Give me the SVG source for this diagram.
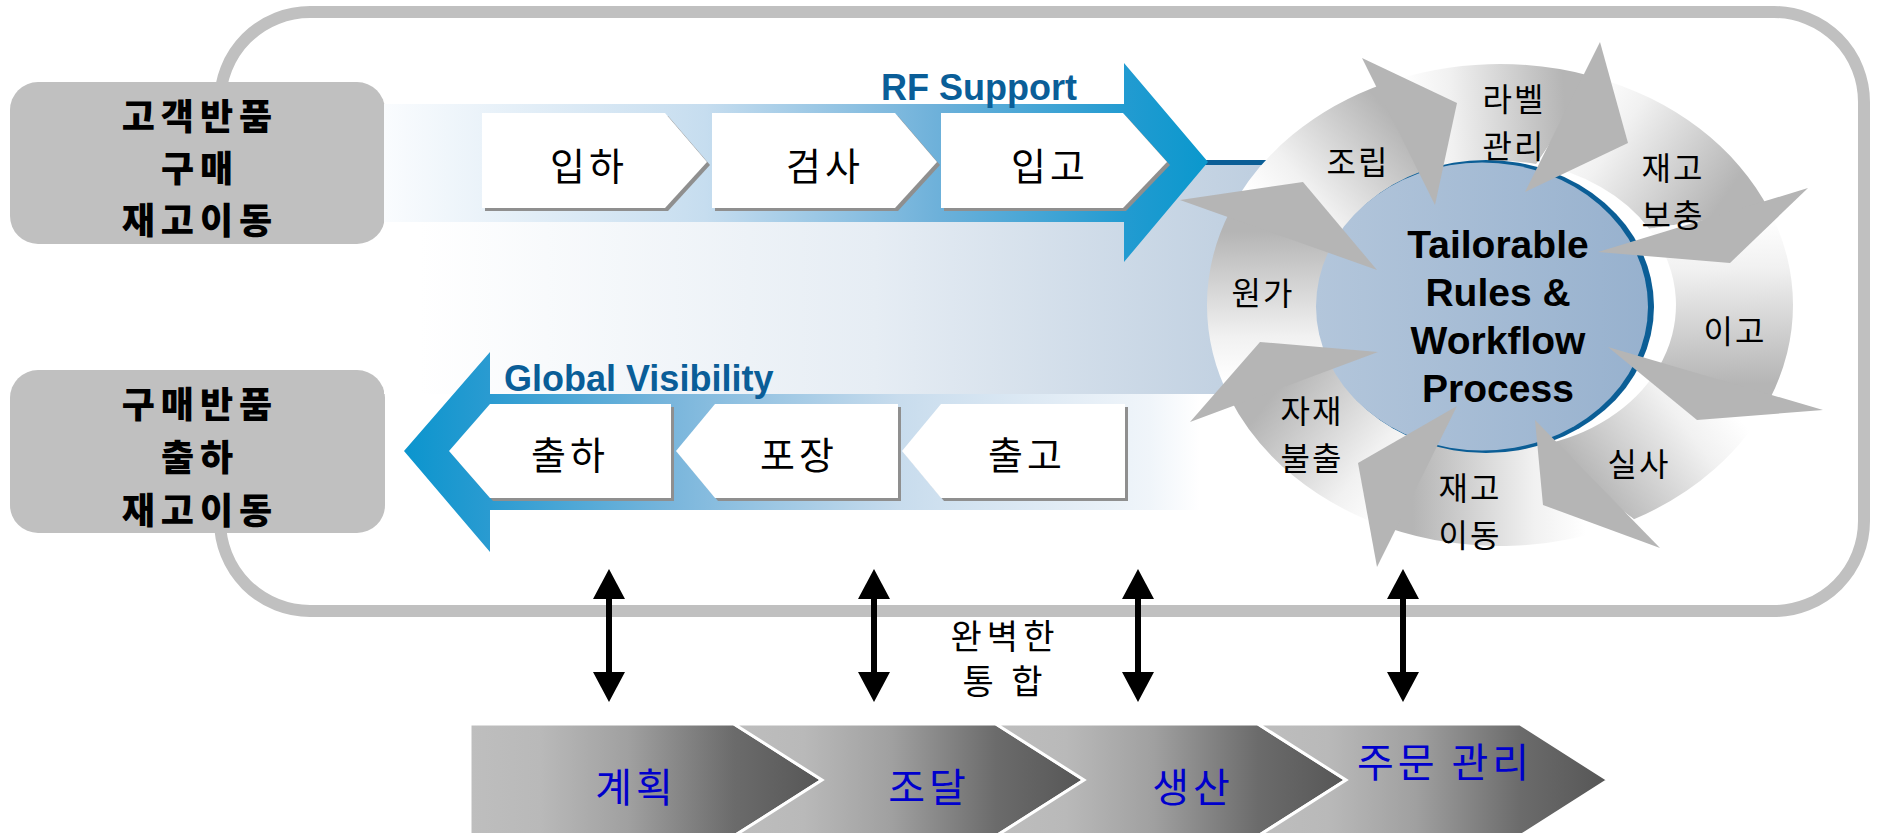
<svg xmlns="http://www.w3.org/2000/svg" width="1881" height="833" viewBox="0 0 1881 833">
<defs>
  <linearGradient id="bgGrad" gradientUnits="userSpaceOnUse" x1="420" y1="0" x2="1330" y2="0">
    <stop offset="0" stop-color="#ffffff"/>
    <stop offset="0.5" stop-color="#e6edf4"/>
    <stop offset="1" stop-color="#b7c9dc"/>
  </linearGradient>
  <linearGradient id="upGrad" gradientUnits="userSpaceOnUse" x1="384" y1="0" x2="1208" y2="0">
    <stop offset="0" stop-color="#fafcfe"/>
    <stop offset="0.39" stop-color="#c6ddef"/>
    <stop offset="0.67" stop-color="#6eb1da"/>
    <stop offset="0.9" stop-color="#229bd1"/>
    <stop offset="1" stop-color="#0a98cd"/>
  </linearGradient>
  <linearGradient id="downGrad" gradientUnits="userSpaceOnUse" x1="404" y1="0" x2="1200" y2="0">
    <stop offset="0" stop-color="#0b95ce"/>
    <stop offset="0.108" stop-color="#2a9bd1"/>
    <stop offset="0.338" stop-color="#7ab6dc"/>
    <stop offset="0.623" stop-color="#c8dced"/>
    <stop offset="0.937" stop-color="#f0f5fa"/>
    <stop offset="1" stop-color="#ffffff"/>
  </linearGradient>
  <linearGradient id="chevGrad" x1="0" y1="0" x2="1" y2="0">
    <stop offset="0" stop-color="#bebebe"/>
    <stop offset="0.2" stop-color="#b9b9b9"/>
    <stop offset="0.45" stop-color="#a0a0a0"/>
    <stop offset="0.75" stop-color="#6b6b6b"/>
    <stop offset="1" stop-color="#565656"/>
  </linearGradient>
  <linearGradient id="circGrad" x1="0" y1="0" x2="1" y2="0">
    <stop offset="0" stop-color="#b3c6db"/>
    <stop offset="1" stop-color="#97b1ce"/>
  </linearGradient>
  <linearGradient id="ringG">
    <stop offset="0" stop-color="#ffffff"/>
    <stop offset="0.3" stop-color="#f1f1f1"/>
    <stop offset="1" stop-color="#b5b5b5"/>
  </linearGradient>
  <linearGradient id="g1" href="#ringG" gradientUnits="userSpaceOnUse" x1="1284.5" y1="380.9" x2="1283.3" y2="231.5"/>
  <linearGradient id="g2" href="#ringG" gradientUnits="userSpaceOnUse" x1="1283.3" y1="231.5" x2="1403.2" y2="129.8"/>
  <linearGradient id="g3" href="#ringG" gradientUnits="userSpaceOnUse" x1="1403.2" y1="129.8" x2="1565.4" y2="120.5"/>
  <linearGradient id="g4" href="#ringG" gradientUnits="userSpaceOnUse" x1="1565.4" y1="120.5" x2="1709.4" y2="219.6"/>
  <linearGradient id="g5" href="#ringG" gradientUnits="userSpaceOnUse" x1="1709.4" y1="219.6" x2="1713.6" y2="384.3"/>
  <linearGradient id="g6" href="#ringG" gradientUnits="userSpaceOnUse" x1="1713.6" y1="384.3" x2="1586" y2="482.5"/>
  <linearGradient id="g7" href="#ringG" gradientUnits="userSpaceOnUse" x1="1586" y1="482.5" x2="1412.6" y2="483.6"/>
  <linearGradient id="g8" href="#ringG" gradientUnits="userSpaceOnUse" x1="1412.6" y1="483.6" x2="1284.5" y2="380.9"/>
  <marker id="ah" markerUnits="userSpaceOnUse" markerWidth="30" markerHeight="32" viewBox="0 0 30 32" refX="0" refY="16" orient="auto-start-reverse">
    <path d="M0,0 L30,16 L0,32 Z" fill="#000" stroke="none"/>
  </marker>
</defs>
<style>
  .kr{font-family:"Noto Sans CJK KR","Noto Sans CJK SC",sans-serif}
  .en{font-family:"Liberation Sans",Arial,sans-serif;font-weight:700}
  .lbox{fill:#c0c0c0}
  .lt{font-size:36px;font-weight:900;fill:#000;text-anchor:middle;dominant-baseline:central;letter-spacing:6px}
  .chev{fill:#ffffff}
  .shadow{fill:#8f8f8f}
  .ct{font-size:38px;fill:#000;text-anchor:middle;dominant-baseline:central;letter-spacing:4px}
  .wt{font-size:32px;fill:#000;text-anchor:middle;dominant-baseline:central;letter-spacing:2px}
  .head{fill:#b5b5b5}
  .bchev{fill:url(#chevGrad);stroke:#ffffff;stroke-width:3}
  .bt{font-size:40px;fill:#0000cc;text-anchor:middle;dominant-baseline:central;letter-spacing:4px}
  .flow{font-size:36px;fill:#0a5e98}
  .it{font-size:34px;fill:#000;text-anchor:middle;dominant-baseline:central;letter-spacing:5px}
</style>
<rect width="1881" height="833" fill="#ffffff"/>

<g id="frame">
  <path d="M220,240 V102 A90,90 0 0 1 310,12 H1774 A90,90 0 0 1 1864,102 V521 A90,90 0 0 1 1774,611 H310 A90,90 0 0 1 220,521 V380" fill="none" stroke="#c0c0c0" stroke-width="12"/>
</g>

<g id="node-inbound-source">
  <rect class="lbox" x="10" y="82" width="375" height="162" rx="28"/>
  <text class="kr lt" x="200" y="114">고객반품</text>
  <text class="kr lt" x="200" y="166">구매</text>
  <text class="kr lt" x="200" y="218">재고이동</text>
</g>
<g id="node-outbound-target">
  <rect class="lbox" x="10" y="370" width="375" height="163" rx="28"/>
  <text class="kr lt" x="200" y="402">구매반품</text>
  <text class="kr lt" x="200" y="455">출하</text>
  <text class="kr lt" x="200" y="508">재고이동</text>
</g>

<g id="flow-background">
  <rect x="384" y="162" width="946" height="232" fill="url(#bgGrad)"/>
  <line x1="1205" y1="162.5" x2="1300" y2="162.5" stroke="#0b5e96" stroke-width="5"/>
</g>

<g id="arrow-rf-support">
  <path d="M384,104 H1124 V63 L1208,162 L1124,262 V222 H384 Z" fill="url(#upGrad)"/>
  <text class="en flow" x="881" y="100">RF Support</text>
</g>
<g id="arrow-global-visibility">
  <path d="M1300,394 H490 V352 L404,451 L490,552 V510 H1300 Z" fill="url(#downGrad)"/>
  <text class="en flow" x="504" y="391" font-size="35">Global Visibility</text>
</g>

<g id="node-receipt">
  <path class="shadow" d="M485,116 H668 L710,165 L668,211 H485 Z"/>
  <path class="chev" d="M482,113 H665 L707,162 L665,208 H482 Z"/>
  <text class="kr ct" x="589" y="163">입하</text>
</g>
<g id="node-inspect">
  <path class="shadow" d="M715,116 H898 L940,165 L898,211 H715 Z"/>
  <path class="chev" d="M712,113 H895 L937,162 L895,208 H712 Z"/>
  <text class="kr ct" x="825" y="163">검사</text>
</g>
<g id="node-putaway">
  <path class="shadow" d="M944,116 H1126 L1170,165 L1126,211 H944 Z"/>
  <path class="chev" d="M941,113 H1123 L1167,162 L1123,208 H941 Z"/>
  <text class="kr ct" x="1050" y="163">입고</text>
</g>

<g id="node-ship">
  <path class="shadow" d="M493,407 H674 V501 H493 L452,454 Z"/>
  <path class="chev" d="M490,404 H671 V498 H490 L449,451 Z"/>
  <text class="kr ct" x="570" y="452">출하</text>
</g>
<g id="node-pack">
  <path class="shadow" d="M718,407 H901 V501 H718 L679,454 Z"/>
  <path class="chev" d="M715,404 H898 V498 H715 L676,451 Z"/>
  <text class="kr ct" x="799" y="452">포장</text>
</g>
<g id="node-issue">
  <path class="shadow" d="M944,407 H1128 V501 H944 L905,454 Z"/>
  <path class="chev" d="M941,404 H1125 V498 H941 L902,451 Z"/>
  <text class="kr ct" x="1027" y="452">출고</text>
</g>

<g id="wheel-bands">
  <path d="M1230.1,398.8 A293,241 0 0 1 1230.3,210.8 L1336.2,252.2 A176,144 0 0 0 1338.8,362.9 Z" fill="url(#g1)"/>
  <path d="M1230.3,210.8 A293,241 0 0 1 1384.6,83.5 L1421.8,176 A176,144 0 0 0 1336.2,252.2 Z" fill="url(#g2)"/>
  <path d="M1384.6,83.5 A293,241 0 0 1 1594.4,76.9 L1536.3,164.1 A176,144 0 0 0 1421.8,176 Z" fill="url(#g3)"/>
  <path d="M1594.4,76.9 A293,241 0 0 1 1769.5,210.5 L1649.2,228.7 A176,144 0 0 0 1536.3,164.1 Z" fill="url(#g4)"/>
  <path d="M1769.5,210.5 A293,241 0 0 1 1769.7,399.2 L1657.5,369.3 A176,144 0 0 0 1649.2,228.7 Z" fill="url(#g5)"/>
  <path d="M1769.7,399.2 A293,241 0 0 1 1633.9,519.3 L1538.1,445.6 A176,144 0 0 0 1657.5,369.3 Z" fill="url(#g6)"/>
  <path d="M1633.9,519.3 A293,241 0 0 1 1387.9,527.7 L1437.2,439.5 A176,144 0 0 0 1538.1,445.6 Z" fill="url(#g7)"/>
  <path d="M1387.9,527.7 A293,241 0 0 1 1230.1,398.8 L1338.8,362.9 A176,144 0 0 0 1437.2,439.5 Z" fill="url(#g8)"/>
</g>

<g id="node-core">
  <ellipse cx="1486" cy="306.5" rx="168" ry="146.5" fill="#0b5e96"/>
  <ellipse cx="1482" cy="306.5" rx="166" ry="144" fill="url(#circGrad)"/>
</g>

<g id="wheel-heads">
  <polygon class="head" points="1180,200 1303,182 1377,270"/>
  <polygon class="head" points="1362,58 1457,103 1435,205"/>
  <polygon class="head" points="1600,42 1628,143 1525,192"/>
  <polygon class="head" points="1808,188 1730,263 1598,252"/>
  <polygon class="head" points="1823,410 1697,420 1608,347"/>
  <polygon class="head" points="1660,548 1543,505 1535,420"/>
  <polygon class="head" points="1377,567 1358,463 1457,406"/>
  <polygon class="head" points="1190,422 1260,342 1378,352"/>
</g>

<g id="node-core-label">
  <text class="en" font-size="39" text-anchor="middle" fill="#000" x="1498" y="258">Tailorable</text>
  <text class="en" font-size="39" text-anchor="middle" fill="#000" x="1498" y="306">Rules &amp;</text>
  <text class="en" font-size="39" text-anchor="middle" fill="#000" x="1498" y="354">Workflow</text>
  <text class="en" font-size="39" text-anchor="middle" fill="#000" x="1498" y="402">Process</text>
</g>

<g id="node-cost"><text class="kr wt" x="1263" y="291">원가</text></g>
<g id="node-assembly"><text class="kr wt" x="1358" y="160">조립</text></g>
<g id="node-label"><text class="kr wt" x="1514" y="97">라벨</text><text class="kr wt" x="1514" y="144">관리</text></g>
<g id="node-replenish"><text class="kr wt" x="1673" y="166">재고</text><text class="kr wt" x="1673" y="213">보충</text></g>
<g id="node-transfer-out"><text class="kr wt" x="1735" y="329">이고</text></g>
<g id="node-count"><text class="kr wt" x="1639" y="462">실사</text></g>
<g id="node-stock-move"><text class="kr wt" x="1470" y="486">재고</text><text class="kr wt" x="1470" y="533">이동</text></g>
<g id="node-material-issue"><text class="kr wt" x="1312" y="409">자재</text><text class="kr wt" x="1312" y="456">불출</text></g>

<g id="connectors" stroke="#000" stroke-width="6" fill="none">
  <line x1="609" y1="599" x2="609" y2="672" marker-start="url(#ah)" marker-end="url(#ah)"/>
  <line x1="874" y1="599" x2="874" y2="672" marker-start="url(#ah)" marker-end="url(#ah)"/>
  <line x1="1138" y1="599" x2="1138" y2="672" marker-start="url(#ah)" marker-end="url(#ah)"/>
  <line x1="1403" y1="599" x2="1403" y2="672" marker-start="url(#ah)" marker-end="url(#ah)"/>
</g>

<g id="label-integration">
  <text class="kr it" x="1005" y="634">완벽한</text>
  <text class="kr it" x="1005" y="679">통 합</text>
</g>

<g id="node-plan">
  <path class="bchev" d="M470,724 H734 L822,780 L734,836 H470 Z"/>
  <text class="kr bt" x="636" y="785">계획</text>
</g>
<g id="node-procure">
  <path class="bchev" d="M734,724 H996 L1084,780 L996,836 H734 L822,780 Z"/>
  <text class="kr bt" x="929" y="785">조달</text>
</g>
<g id="node-produce">
  <path class="bchev" d="M996,724 H1258 L1346,780 L1258,836 H996 L1084,780 Z"/>
  <text class="kr bt" x="1193" y="785">생산</text>
</g>
<g id="node-order">
  <path class="bchev" d="M1258,724 H1520 L1608,780 L1520,836 H1258 L1346,780 Z"/>
  <text class="kr bt" x="1445" y="760">주문 관리</text>
</g>
</svg>
